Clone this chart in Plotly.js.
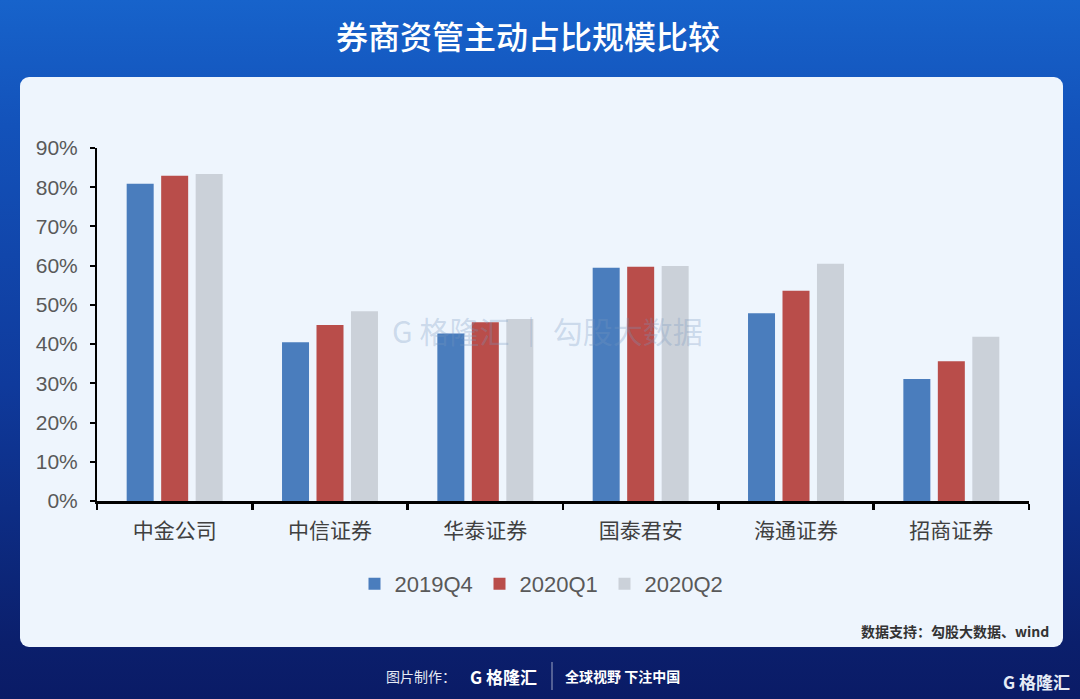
<!DOCTYPE html>
<html>
<head>
<meta charset="utf-8">
<script src="https://cdn.plot.ly/plotly-3.0.1.min.js"></script>
<style>
  html, body { margin:0; padding:0; width:1080px; height:699px; overflow:hidden; }
  body { background: linear-gradient(180deg, #1763cb 0%, #1352ba 18%, #0f3a9c 55%, #0b1f6c 92%, #0a1b66 100%); position:relative; }
  #card { position:absolute; left:20px; top:77px; width:1043px; height:570px; background:#eef5fd; border-radius:9px; }
  #chart { position:absolute; left:0; top:0; width:1080px; height:699px; }
</style>
</head>
<body>
<div id="card"></div>
<div id="chart"></div>
<script>
const categories = ["中金公司", "中信证券", "华泰证券", "国泰君安", "海通证券", "招商证券"];
const seriesNames = ["2019Q4", "2020Q1", "2020Q2"];
const v2019Q4 = [0.809, 0.405, 0.427, 0.595, 0.479, 0.311];
const v2020Q1 = [0.829, 0.449, 0.456, 0.597, 0.536, 0.356];
const v2020Q2 = [0.834, 0.484, 0.464, 0.599, 0.605, 0.419];
const yTicks = [0, 0.1, 0.2, 0.3, 0.4, 0.5, 0.6, 0.7, 0.8, 0.9];
const yTickText = ["0%", "10%", "20%", "30%", "40%", "50%", "60%", "70%", "80%", "90%"];
const titleText = "券商资管主动占比规模比较";
const sourceText = "数据支持：勾股大数据、wind";

const colors = ["#4a7dbd", "#b94d4a", "#cbd1d9"];
const values = [v2019Q4, v2020Q1, v2020Q2];

const traces = seriesNames.map((n, i) => ({
  type: "bar", name: n, x: categories, y: values[i],
  marker: { color: colors[i] }, hoverinfo: "x+y+name"
}));

// pixel -> paper helpers (plot area 97..1029 x, 148..501 y)
const L = 97, R = 1029, T = 148, B = 501;
const px = x => (x - L) / (R - L);
const py = y => (B - y) / (B - T);

const layout = {
  width: 1080, height: 699,
  paper_bgcolor: "rgba(0,0,0,0)", plot_bgcolor: "rgba(0,0,0,0)",
  margin: { l: L, r: 1080 - R, t: T, b: 699 - B },
  title: { text: titleText, x: 528 / 1080, xref: "container", xanchor: "center", y: 1 - 38 / 699, yref: "container", yanchor: "middle",
           font: { family: "Noto Sans CJK SC", size: 32, color: "#ffffff", weight: 500 } },
  barmode: "group", bargap: 0.334, bargroupgap: 0.217,
  showlegend: true,
  legend: { orientation: "h", x: px(542), xanchor: "center", y: py(584), yanchor: "middle",
            font: { family: "Liberation Sans, Arial", size: 22, color: "#595959" },
            bgcolor: "rgba(0,0,0,0)", itemwidth: 30, entrywidth: 80, itemclick: false },
  xaxis: {
    type: "category", showline: true, linecolor: "#000", linewidth: 2.5,
    ticks: "outside", tickson: "boundaries", ticklen: 6, tickwidth: 2.5, tickcolor: "#000",
    showgrid: false, zeroline: false, ticklabelstandoff: 9,
    tickfont: { family: "Noto Sans CJK SC", size: 21, color: "#404040" }
  },
  yaxis: {
    range: [0, 0.9], tickvals: yTicks, ticktext: yTickText, showline: true, linecolor: "#000", linewidth: 2,
    ticks: "outside", ticklen: 5, tickwidth: 2, tickcolor: "#000", showgrid: false, zeroline: false,
    tickfont: { family: "Liberation Sans, Arial", size: 21, color: "#595959" }, ticklabelstandoff: 8
  },
  annotations: [
    { text: "<b>" + sourceText + "</b>", xref: "paper", yref: "paper", x: px(1051), y: py(631), xanchor: "right", yanchor: "middle",
      showarrow: false, font: { family: "Noto Sans CJK SC", size: 14, color: "#333333" } },
    { text: "G 格隆汇 │ 勾股大数据", xref: "paper", yref: "paper", x: px(547), y: py(330), xanchor: "center", yanchor: "middle",
      showarrow: false, font: { family: "Noto Sans CJK SC", size: 30, color: "rgba(120,150,190,0.30)" } },
    { text: "图片制作：", xref: "paper", yref: "paper", x: px(458), y: py(676), xanchor: "right", yanchor: "middle",
      showarrow: false, font: { family: "Noto Sans CJK SC", size: 14, color: "#e6ebf5" } },
    { text: "<b>G 格隆汇</b>", xref: "paper", yref: "paper", x: px(468), y: py(676), xanchor: "left", yanchor: "middle",
      showarrow: false, font: { family: "Noto Sans CJK SC", size: 17, color: "#ffffff" } },
    { text: "<b>全球视野 下注中国</b>", xref: "paper", yref: "paper", x: px(563), y: py(676), xanchor: "left", yanchor: "middle",
      showarrow: false, font: { family: "Noto Sans CJK SC", size: 14, color: "#ffffff" } },
    { text: "<b>G 格隆汇</b>", xref: "paper", yref: "paper", x: px(1072), y: py(682), xanchor: "right", yanchor: "middle",
      showarrow: false, font: { family: "Noto Sans CJK SC", size: 17, color: "#e6ebf5" } }
  ],
  shapes: [
    { type: "line", xref: "paper", yref: "paper", x0: px(552), x1: px(552), y0: py(662), y1: py(690),
      line: { color: "rgba(255,255,255,0.6)", width: 1 } }
  ]
};

Plotly.newPlot("chart", traces, layout, { displayModeBar: false, staticPlot: true });
</script>
</body>
</html>
